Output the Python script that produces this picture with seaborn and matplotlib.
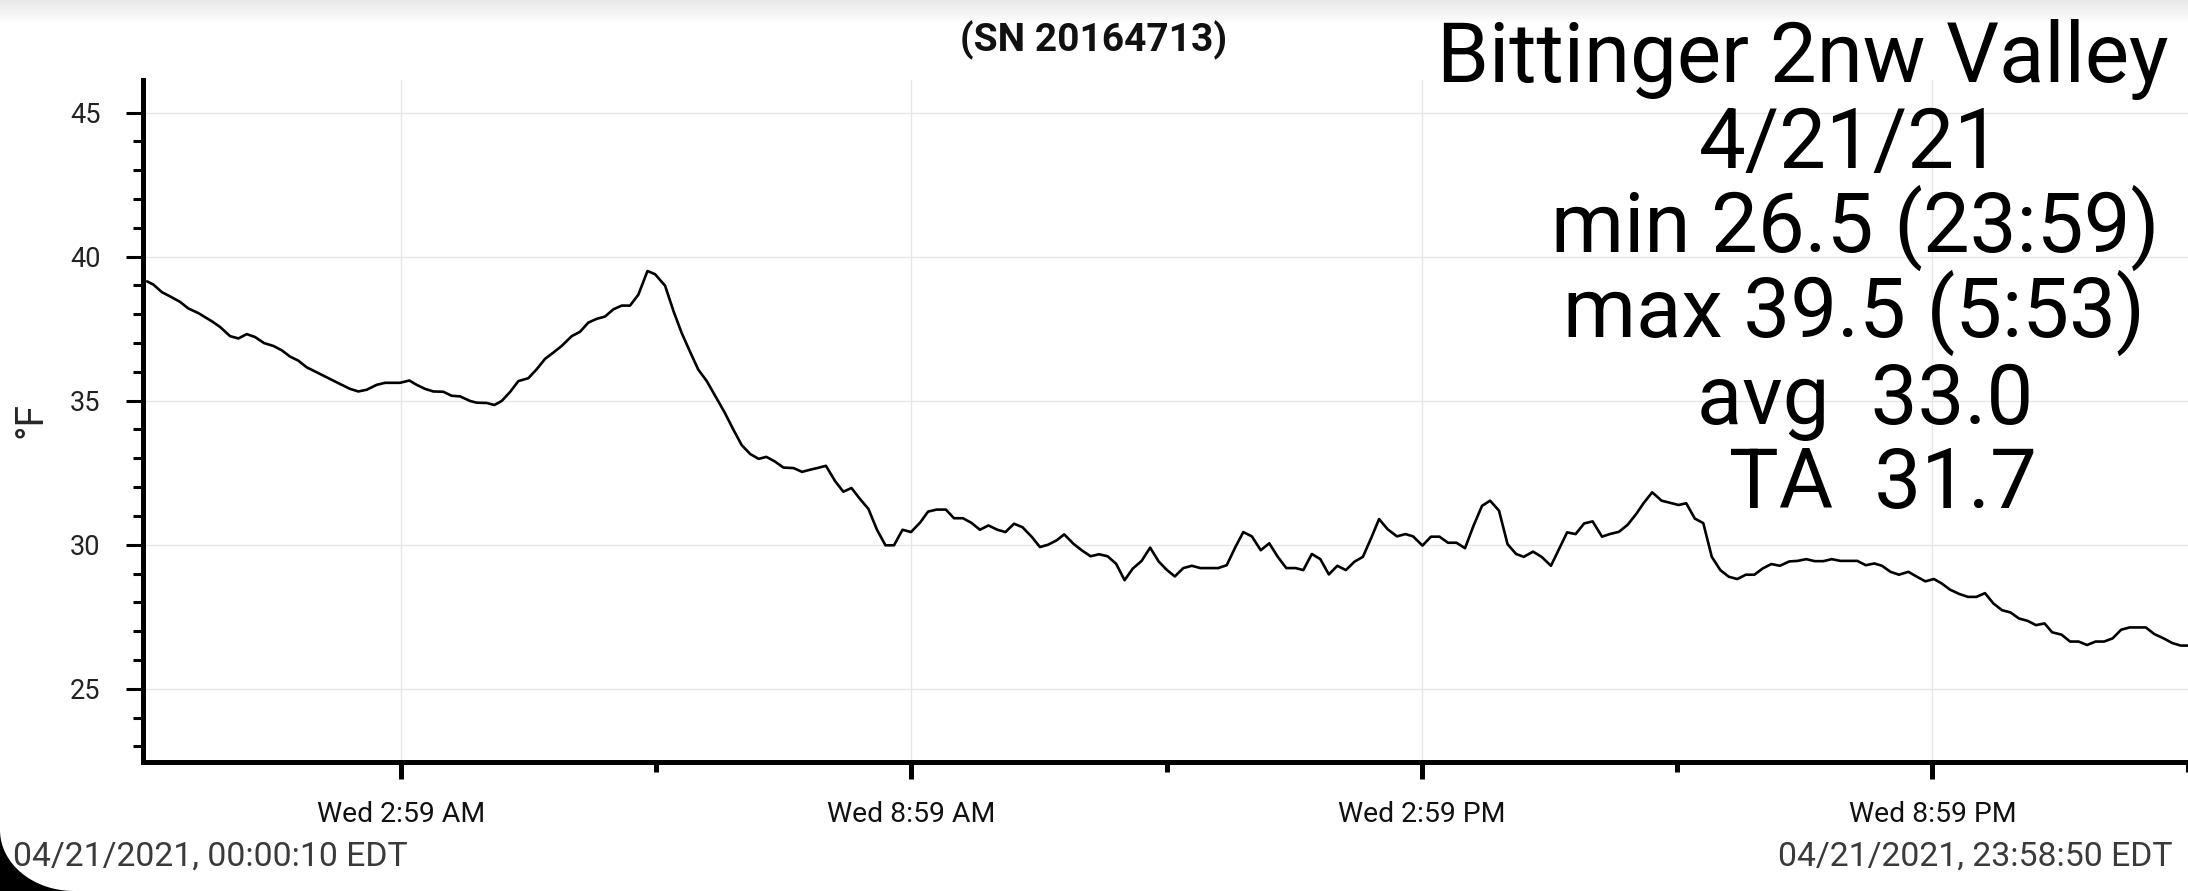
import numpy as np
import pandas as pd
import matplotlib
matplotlib.use("Agg")
import matplotlib.pyplot as plt
import matplotlib.dates as mdates
from matplotlib.patches import Polygon
import seaborn as sns

# hours after midnight, 2021-04-21
hours = [0.003, 0.077, 0.175, 0.273, 0.39, 0.488, 0.605, 0.762, 0.86, 0.978,
         1.076, 1.174, 1.271, 1.377, 1.487, 1.585, 1.683, 1.78, 1.878, 2.074,
         2.27, 2.388, 2.486, 2.584, 2.701, 2.799, 2.975, 3.085, 3.171, 3.269,
         3.367, 3.484, 3.582, 3.68, 3.798, 3.876, 3.994, 4.084, 4.17, 4.268,
         4.366, 4.483, 4.581, 4.679, 4.777, 4.875, 4.993, 5.09, 5.188, 5.286,
         5.384, 5.482, 5.58, 5.678, 5.776, 5.883, 5.972,
         6.09, 6.19, 6.285, 6.38, 6.48, 6.58, 6.68, 6.79, 6.89, 6.99,
         7.09, 7.19, 7.28, 7.38, 7.48, 7.6, 7.7, 7.79, 7.89, 7.98,
         8.09, 8.185, 8.28, 8.38, 8.48, 8.58, 8.68, 8.78, 8.88, 8.98,
         9.09, 9.18, 9.28, 9.39, 9.485, 9.59, 9.69, 9.79, 9.89, 9.995,
         10.09, 10.19, 10.29, 10.4, 10.495, 10.59, 10.69, 10.78, 10.89, 10.99,
         11.09, 11.19, 11.29, 11.39, 11.49, 11.585, 11.69, 11.79,
         11.89, 11.985, 12.08, 12.18, 12.28, 12.38, 12.59, 12.69, 12.79, 12.885,
         12.985, 13.09, 13.19, 13.29, 13.39, 13.5, 13.59, 13.69, 13.79, 13.89,
         13.99, 14.09, 14.19, 14.29, 14.39, 14.48, 14.58, 14.69, 14.79, 14.88,
         14.99, 15.09, 15.19, 15.29, 15.39, 15.49, 15.59, 15.69, 15.785, 15.89,
         15.99, 16.09, 16.18, 16.29, 16.39, 16.5, 16.595, 16.69, 16.79, 16.89,
         16.99, 17.1, 17.19, 17.3, 17.4, 17.5, 17.59, 17.69, 17.8,
         17.88, 18.0, 18.09, 18.19, 18.29, 18.39, 18.49, 18.59, 18.69, 18.79,
         18.89, 18.99, 19.09, 19.19, 19.3, 19.4, 19.5, 19.6, 19.7, 19.8,
         19.9, 20.1, 20.2, 20.3, 20.39, 20.49, 20.59, 20.7, 20.8, 20.9,
         21.0, 21.09, 21.19, 21.3, 21.4, 21.5, 21.6, 21.7, 21.8, 21.9,
         22.0, 22.1, 22.2, 22.3, 22.39, 22.5, 22.6, 22.7, 22.8, 22.9,
         23.0, 23.1, 23.2, 23.3, 23.49, 23.59, 23.7, 23.8, 23.9, 23.981]

temp_f = [39.14, 39.03, 38.77, 38.62, 38.43, 38.2, 38.04, 37.76, 37.56, 37.24,
          37.16, 37.31, 37.21, 37.0, 36.9, 36.75, 36.53, 36.39, 36.16, 35.87,
          35.58, 35.41, 35.32, 35.38, 35.55, 35.62, 35.62, 35.7, 35.55, 35.41,
          35.32, 35.31, 35.17, 35.15, 34.99, 34.93, 34.92, 34.85, 34.99, 35.3,
          35.68, 35.78, 36.09, 36.45, 36.67, 36.9, 37.24, 37.39, 37.71, 37.84,
          37.92, 38.17, 38.3, 38.3, 38.68, 39.5, 39.39,
          38.99, 38.1, 37.35, 36.72, 36.08, 35.68, 35.16, 34.59, 34.01, 33.46,
          33.15, 32.98, 33.05, 32.89, 32.68, 32.66, 32.53, 32.6, 32.67, 32.74,
          32.2, 31.84, 31.97, 31.59, 31.24, 30.52, 29.98, 29.98, 30.52, 30.44,
          30.78, 31.15, 31.22, 31.22, 30.92, 30.92, 30.76, 30.52, 30.67, 30.52,
          30.44, 30.73, 30.61, 30.27, 29.92, 30.0, 30.15, 30.36, 30.03, 29.8,
          29.6, 29.67, 29.6, 29.34, 28.77, 29.17, 29.44, 29.9,
          29.42, 29.13, 28.9, 29.19, 29.27, 29.19, 29.19, 29.29, 29.91, 30.44,
          30.29, 29.81, 30.05, 29.58, 29.19, 29.19, 29.12, 29.68, 29.5, 28.97,
          29.27, 29.12, 29.41, 29.58, 30.25, 30.89, 30.54, 30.29, 30.37, 30.29,
          29.97, 30.28, 30.28, 30.07, 30.07, 29.88, 30.66, 31.35, 31.53, 31.18,
          30.02, 29.68, 29.58, 29.76, 29.58, 29.27, 29.85, 30.43, 30.37, 30.74,
          30.81, 30.28, 30.37, 30.45, 30.69, 31.06, 31.45, 31.82, 31.53,
          31.47, 31.38, 31.44, 30.91, 30.75, 29.58, 29.12, 28.89, 28.81, 28.96,
          28.96, 29.18, 29.33, 29.27, 29.42, 29.44, 29.5, 29.43, 29.43, 29.5,
          29.44, 29.44, 29.29, 29.35, 29.27, 29.06, 28.96, 29.06, 28.89, 28.73,
          28.81, 28.66, 28.44, 28.29, 28.19, 28.19, 28.32, 27.96, 27.73, 27.65,
          27.44, 27.36, 27.21, 27.27, 26.96, 26.88, 26.64, 26.64, 26.52, 26.64,
          26.64, 26.75, 27.05, 27.13, 27.13, 26.9, 26.75, 26.59, 26.5, 26.5]

major_hours = [2 + 59 / 60, 8 + 59 / 60, 14 + 59 / 60, 20 + 59 / 60]
major_labels = ["Wed 2:59 AM", "Wed 8:59 AM", "Wed 2:59 PM", "Wed 8:59 PM"]
minor_hours = [5 + 59 / 60, 11 + 59 / 60, 17 + 59 / 60, 23 + 59 / 60]
y_major = [25, 30, 35, 40, 45]
y_minor = [23, 24, 26, 27, 28, 29, 31, 32, 33, 34, 36, 37, 38, 39, 41, 42, 43, 44]

title = "(SN 20164713)"
info_lines = ["Bittinger 2nw Valley", "4/21/21", "min 26.5 (23:59)",
              "max 39.5 (5:53)", "avg  33.0", "TA  31.7"]
start_stamp = "04/21/2021, 00:00:10 EDT"
end_stamp = "04/21/2021, 23:58:50 EDT"

sns.set_theme(style="white")
plt.rcParams['font.family'] = ['Roboto', 'DejaVu Sans']

W, H = 2188, 891
base = pd.Timestamp("2021-04-21")


def to_num(h):
    return mdates.date2num(base + pd.to_timedelta(h, unit="h"))


def fx(x):
    return x / W


def fy(y):
    return 1 - y / H


df = pd.DataFrame({"time": base + pd.to_timedelta(hours, unit="h"), "temp": temp_f})

fig = plt.figure(figsize=(W / 100, H / 100), dpi=100)
fig.patch.set_facecolor("white")

# soft shadow along the top edge of the screenshot
gax = fig.add_axes([0, fy(26), 1, 26 / H], zorder=0)
gax.imshow(np.linspace(0.91, 1.0, 26)[:, None], cmap="gray", vmin=0, vmax=1, aspect="auto")
gax.axis("off")

ax = fig.add_axes([fx(143), fy(761.7), 1 - fx(143), (761.7 - 80) / H], zorder=1)
ax.patch.set_alpha(0)

sns.lineplot(data=df, x="time", y="temp", ax=ax, color="black", linewidth=1.9)

ax.set_xlim(to_num(-0.045), to_num(23.986))
ax.set_ylim(22.47, 46.13)

ax.set_xticks([to_num(h) for h in major_hours])
ax.set_xticklabels(major_labels)
ax.set_xticks([to_num(h) for h in minor_hours], minor=True)
ax.set_yticks(y_major)
ax.set_yticks(y_minor, minor=True)

ax.grid(True, which="major", color="#e6e6e6", linewidth=1.0)
ax.set_axisbelow(True)

for side in ["top", "right"]:
    ax.spines[side].set_visible(False)
for side in ["left", "bottom"]:
    ax.spines[side].set_linewidth(3.6)
    ax.spines[side].set_color("black")

ax.tick_params(axis="y", which="both", left=True, direction="out", color="black")
ax.tick_params(axis="y", which="major", length=12.2, width=2.2, pad=18.5,
               labelsize=19.5, labelcolor="#222222")
ax.tick_params(axis="y", which="minor", length=7, width=2.2)
ax.tick_params(axis="x", which="both", bottom=True, direction="out", color="black")
ax.tick_params(axis="x", which="major", length=12, width=3.6, pad=16.5,
               labelsize=20.4, labelcolor="#111111")
ax.tick_params(axis="x", which="minor", length=7, width=3.6)

ax.set_xlabel("")
ax.set_ylabel("")

fig.text(fx(31), fy(420), "°F", rotation=90, ha="center", va="center", fontsize=28)

fig.text(fx(1093.3), fy(51.7), title, ha="center", va="baseline",
         fontsize=28, fontweight="bold", color="#111111")

info_x = [1802.5, 1850, 1855, 1854, 1865, 1883]
info_y = [82.3, 168.3, 251.7, 337.3, 424, 508.3]
for line, x, y in zip(info_lines, info_x, info_y):
    fig.text(fx(x), fy(y), line, ha="center", va="baseline", fontsize=60, color="black")

fig.text(fx(13.4), fy(866), start_stamp, ha="left", va="baseline",
         fontsize=24.3, color="#3a3a3a")
fig.text(fx(2172), fy(866), end_stamp, ha="right", va="baseline",
         fontsize=24.3, color="#3a3a3a")

# rounded phone corner, bottom left
theta = np.linspace(np.pi, np.pi / 2, 40)
cx, cy, rx, ry = 74, 830, 74, 61
arc = [(fx(cx + rx * np.cos(t)), fy(cy + ry * np.sin(t))) for t in theta]
corner = Polygon(arc + [(0, 0)], closed=True, transform=fig.transFigure,
                 facecolor="black", edgecolor="none", zorder=10)
fig.add_artist(corner)

fig.savefig("out.png", dpi=100)
